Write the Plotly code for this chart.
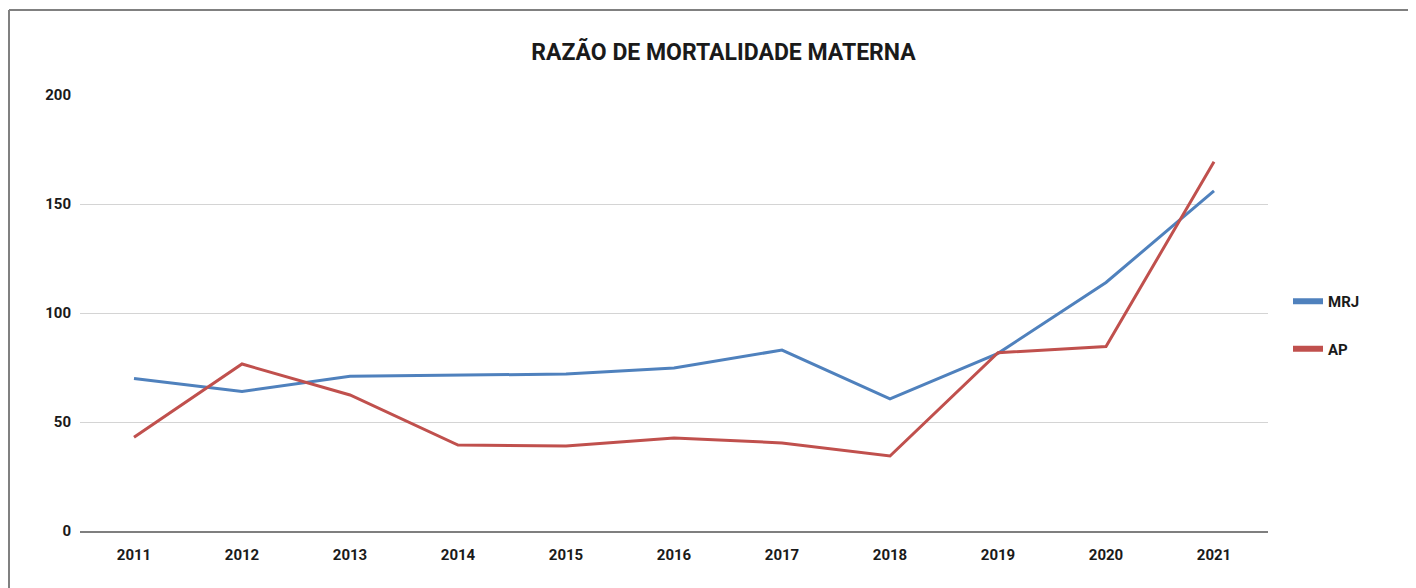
import plotly.graph_objects as go

years = ["2011", "2012", "2013", "2014", "2015", "2016", "2017", "2018", "2019", "2020", "2021"]
mrj = [70, 64, 71, 71.5, 72, 74.8, 83, 60.6, 81.5, 114, 156]
ap = [43, 76.6, 62.4, 39.4, 39, 42.7, 40.4, 34.4, 81.8, 84.6, 169.4]
y_ticks = [0, 50, 100, 150, 200]

BLUE, RED = "#4F81BD", "#C0504D"

# figure sits at an 8px page offset inside the window
W, H = 1408, 580
L, R, T, B = 72, 148, 87, 57
pw, ph = W - L - R, H - T - B

FONT = "Roboto, Liberation Sans, sans-serif"
TXT = "#1a1a1a"

fig = go.Figure()
fig.add_trace(go.Scatter(x=years, y=mrj, name="MRJ", mode="lines",
                         line=dict(color=BLUE, width=3), showlegend=False))
fig.add_trace(go.Scatter(x=years, y=ap, name="AP", mode="lines",
                         line=dict(color=RED, width=3), showlegend=False))
# legend entries with the thicker key lines of the original
fig.add_trace(go.Scatter(x=[None], y=[None], name="MRJ", mode="lines",
                         line=dict(color=BLUE, width=6), legendgroup="a", hoverinfo="skip"))
fig.add_trace(go.Scatter(x=[None], y=[None], name="AP", mode="lines",
                         line=dict(color=RED, width=6), legendgroup="b", hoverinfo="skip"))

# outer frame (left and top edges visible)
fx = (1 - L) / pw
fy = (H - B - 2) / ph
fig.add_shape(type="line", xref="paper", yref="paper", x0=fx, x1=fx, y0=fy, y1=-B / ph - 0.02,
              line=dict(color="#808080", width=2))
fig.add_shape(type="line", xref="paper", yref="paper", x0=fx, x1=(W - L) / pw + 0.02, y0=fy, y1=fy,
              line=dict(color="#808080", width=2))

fig.update_layout(
    width=W, height=H,
    margin=dict(l=L, r=R, t=T, b=B),
    paper_bgcolor="white", plot_bgcolor="white",
    title=dict(text="RAZÃO DE MORTALIDADE MATERNA", x=715.5 / W, xanchor="center",
               y=1 - 43.5 / H, yanchor="middle", yref="container",
               font=dict(family=FONT, size=23, color=TXT, weight="bold")),
    font=dict(family=FONT, color=TXT),
    legend=dict(x=(1280 - L) / pw, y=(H - B - 277) / ph, xanchor="left", yanchor="top",
                font=dict(family=FONT, size=15, color=TXT, weight="bold"),
                tracegroupgap=25, bgcolor="rgba(0,0,0,0)", itemwidth=30),
    showlegend=True,
    xaxis=dict(type="category", range=[-0.5, len(years) - 0.5], showgrid=False,
               showline=True, linecolor="#7f7f7f", linewidth=2, ticks="",
               tickfont=dict(family=FONT, size=15, color=TXT, weight="bold"),
               ticklabelstandoff=9, fixedrange=True),
    yaxis=dict(range=[0, 200], tickvals=y_ticks, showgrid=True, gridcolor="#d4d4d4", gridwidth=1,
               zeroline=False, showline=False, ticks="",
               tickfont=dict(family=FONT, size=15, color=TXT, weight="bold"),
               ticklabelstandoff=8, fixedrange=True),
)

fig.write_html("out.html")
